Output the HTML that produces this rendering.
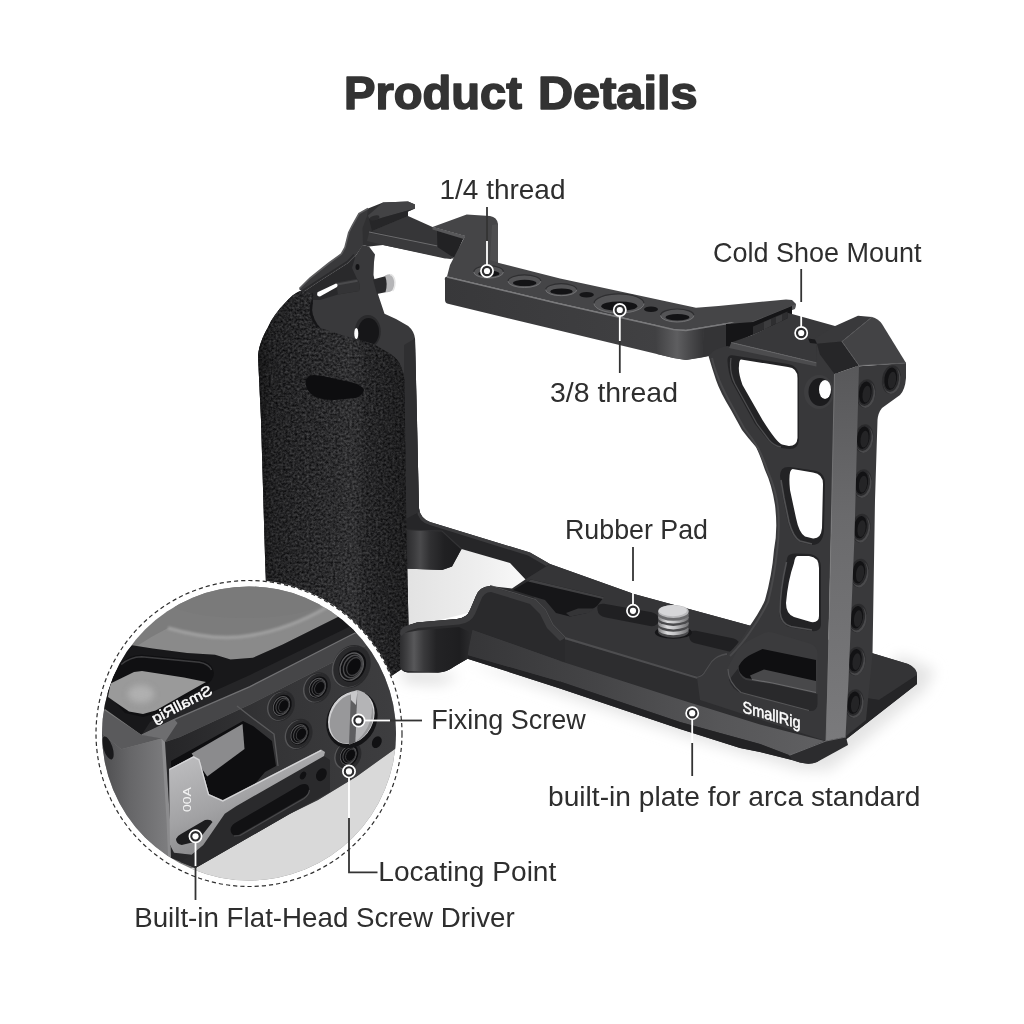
<!DOCTYPE html>
<html lang="en">
<head>
<meta charset="utf-8">
<title>Product Details</title>
<style>
  html, body { margin: 0; padding: 0; background: #ffffff; }
  body { width: 1024px; height: 1024px; overflow: hidden; position: relative; font-family: "Liberation Sans", sans-serif; }
  svg { position: absolute; left: 0; top: 0; display: block; }
  .lbl { font-family: "Liberation Sans", sans-serif; font-size: 27.5px; fill: #2e2e2e; }
  .ttl { font-family: "Liberation Sans", sans-serif; font-weight: 700; font-size: 47px; fill: #333333; stroke: #333333; stroke-width: 1.6px; stroke-linejoin: round; }
</style>
</head>
<body>
<svg width="1024" height="1024" viewBox="0 0 1024 1024">
  <defs>
    <linearGradient id="gHandle" gradientUnits="userSpaceOnUse" x1="258" y1="0" x2="407" y2="0">
      <stop offset="0" stop-color="#000000" stop-opacity="0.45"/>
      <stop offset="0.1" stop-color="#000000" stop-opacity="0.18"/>
      <stop offset="0.35" stop-color="#000000" stop-opacity="0.02"/>
      <stop offset="0.62" stop-color="#ffffff" stop-opacity="0.035"/>
      <stop offset="0.72" stop-color="#000000" stop-opacity="0.06"/>
      <stop offset="0.9" stop-color="#000000" stop-opacity="0.2"/>
      <stop offset="1" stop-color="#000000" stop-opacity="0.28"/>
    </linearGradient>
    <linearGradient id="gPostFront" x1="0" y1="0" x2="0" y2="1">
      <stop offset="0" stop-color="#58585a"/>
      <stop offset="0.4" stop-color="#6a6a6c"/>
      <stop offset="1" stop-color="#7a7a7c"/>
    </linearGradient>
    <linearGradient id="gInsetLeft" gradientUnits="userSpaceOnUse" x1="100" y1="0" x2="166" y2="0">
      <stop offset="0" stop-color="#4c4c4e"/>
      <stop offset="0.45" stop-color="#666668"/>
      <stop offset="1" stop-color="#7c7c7e"/>
    </linearGradient>
    <linearGradient id="gInsetFront" gradientUnits="userSpaceOnUse" x1="170" y1="0" x2="400" y2="0">
      <stop offset="0" stop-color="#262628"/>
      <stop offset="0.4" stop-color="#333335"/>
      <stop offset="1" stop-color="#3e3e40"/>
    </linearGradient>
    <linearGradient id="gTool" gradientUnits="userSpaceOnUse" x1="180" y1="760" x2="215" y2="850">
      <stop offset="0" stop-color="#bcbcbe"/>
      <stop offset="0.6" stop-color="#a2a2a4"/>
      <stop offset="1" stop-color="#8a8a8c"/>
    </linearGradient>
    <filter id="fLeather" x="0" y="0" width="100%" height="100%" color-interpolation-filters="sRGB">
      <feTurbulence type="fractalNoise" baseFrequency="0.42" numOctaves="2" seed="11" result="n"/>
      <feColorMatrix in="n" type="matrix" values="0.34 0 0 0 -0.008  0.34 0 0 0 -0.008  0.34 0 0 0 -0.001  0 0 0 0 1" result="m"/>
      <feComposite in="m" in2="SourceAlpha" operator="in"/>
    </filter>
    <linearGradient id="gBevel" gradientUnits="userSpaceOnUse" x1="470" y1="0" x2="825" y2="0">
      <stop offset="0" stop-color="#363638"/>
      <stop offset="0.35" stop-color="#444446"/>
      <stop offset="0.7" stop-color="#565658"/>
      <stop offset="1" stop-color="#606062"/>
    </linearGradient>
    <filter id="fBlur" x="-10%" y="-10%" width="120%" height="120%"><feGaussianBlur stdDeviation="7"/></filter>
    <linearGradient id="gBarFront" gradientUnits="userSpaceOnUse" x1="445" y1="0" x2="700" y2="0">
      <stop offset="0" stop-color="#38383a"/>
      <stop offset="0.6" stop-color="#3e3e40"/>
      <stop offset="1" stop-color="#434345"/>
    </linearGradient>
    <linearGradient id="gBarCorner" gradientUnits="userSpaceOnUse" x1="655" y1="0" x2="704" y2="0">
      <stop offset="0" stop-color="#404042"/>
      <stop offset="0.45" stop-color="#5e5e60"/>
      <stop offset="0.7" stop-color="#4a4a4c"/>
      <stop offset="1" stop-color="#343436"/>
    </linearGradient>
    <linearGradient id="gScrew" x1="0" y1="0" x2="1" y2="0">
      <stop offset="0" stop-color="#7c7c7e"/>
      <stop offset="0.3" stop-color="#dededf"/>
      <stop offset="0.55" stop-color="#c4c4c6"/>
      <stop offset="1" stop-color="#6e6e70"/>
    </linearGradient>
    <filter id="fBlur3" x="-30%" y="-30%" width="160%" height="160%"><feGaussianBlur stdDeviation="3"/></filter>
    <linearGradient id="gGap" gradientUnits="userSpaceOnUse" x1="405" y1="0" x2="525" y2="0">
      <stop offset="0" stop-color="#e2e2e2"/>
      <stop offset="0.6" stop-color="#eeeeee"/>
      <stop offset="1" stop-color="#f8f8f8"/>
    </linearGradient>
    <linearGradient id="gFoot" gradientUnits="userSpaceOnUse" x1="400" y1="0" x2="470" y2="0">
      <stop offset="0" stop-color="#2c2c2e"/>
      <stop offset="0.09" stop-color="#3e3e40"/>
      <stop offset="0.2" stop-color="#58585a"/>
      <stop offset="0.34" stop-color="#3a3a3c"/>
      <stop offset="0.52" stop-color="#232325"/>
      <stop offset="0.85" stop-color="#1e1e20"/>
      <stop offset="1" stop-color="#2a2a2c"/>
    </linearGradient>
    <linearGradient id="gFoot2" gradientUnits="userSpaceOnUse" x1="404" y1="0" x2="462" y2="0">
      <stop offset="0" stop-color="#262628"/>
      <stop offset="0.16" stop-color="#3a3a3c"/>
      <stop offset="0.28" stop-color="#4a4a4c"/>
      <stop offset="0.45" stop-color="#303032"/>
      <stop offset="0.7" stop-color="#202022"/>
      <stop offset="1" stop-color="#1c1c1e"/>
    </linearGradient>
    <filter id="fBlur1" x="-10%" y="-50%" width="120%" height="200%"><feGaussianBlur stdDeviation="1.2"/></filter>
    <clipPath id="insetClip"><circle cx="249" cy="733.5" r="147"/></clipPath>
  </defs>

  <!-- ===== BACKGROUND ===== -->
  <rect x="0" y="0" width="1024" height="1024" fill="#ffffff"/>
  <g id="shadows" filter="url(#fBlur)">
    <path d="M470,664 L560,694 L690,738 L800,770 L830,770 L925,690 L935,670 L900,655 L860,700 L700,700 Z" fill="#e4e4e4"/>
    <path d="M400,668 L460,676 L440,684 L405,682 Z" fill="#dddddd"/>
  </g>

  <!-- ===== PRODUCT ===== -->
  <g id="product">
    <!-- ground shading between rails -->
    <path d="M404,560 L450,560 L462,549 L512,562 L528,578 L514,590 L490,588 L478,598 L472,612 L400,630 Z" fill="url(#gGap)"/>
    <!-- ===== back rail (lower-left, far side) ===== -->
    <path d="M404,330 L412.5,332.5 L415,345 L419,508 Q420,518 430,522 L530,552.5 L550,564 L560,600 L526,580 L510,563 L461.5,549 L452,566.5 L442,570 L404,568.5 Z" fill="#262628"/>
    <path d="M419,508 Q420,518 430,522 L530,552.5 L550,564 L546,566 L528,555.5 L430,525 Q418,522 416.5,509 Z" fill="#3c3c3e"/>
    <path d="M404,530 L442,531 L461.5,549 L452,566.5 L442,570 L404,568.5 Z" fill="url(#gFoot2)"/>
    <path d="M404,530 L442,531 L461.5,549" stroke="#333335" stroke-width="1.2" fill="none"/>

    <!-- ===== left frame (behind handle) ===== -->
    <!-- plate -->
    <path d="M303,292.5 L318.6,282 L348.4,263 L355.5,256 L362.5,245 L369,246.6 L375,254.5 L374,262 L373.5,275 L377.5,292.7 L384.5,313.8 L396,319 L408.2,326 Q414,331 415,338.4 L417,420 L419,512 L400,520 L300,400 Z" fill="#39393b"/>
    <path d="M404,345 L415,338.4 L417,420 L419,512 L404,520 Z" fill="#2f2f31"/>
    <!-- shadow under arm + rod behind slot -->
    <path d="M303,292.5 L318.6,282 L348.4,263 L355.5,256 L352,268 L357,278.7 Q361,284 359,291 L338,294.5 L320,300 L312,300 Z" fill="#29292b"/>
    <path d="M336,282.5 L357,278.7 Q361,284 359,291 L338,294.5 Z" fill="#343436"/>
    <path d="M337,284.5 L357.5,280.7" stroke="#4a4a4c" stroke-width="2" fill="none"/>
    <!-- slot under arm (white gap) -->
    <path d="M317.5,292.2 L336,283.5 Q338.5,284 337,287 L320,296.5 Q316,296.5 317.5,292.2 Z" fill="#ffffff"/>
    <!-- upper frame silhouette (shoe support) -->
    <path d="M345,247.5 L348.75,232.5 L352,226 L359,213.5 L368,208.5 L383,202.5 L408,201.5 L415,204.5 L415,208.5 L408,211.5 L408,227 L432.5,227 L465,236 L451,259 L383,245 L369,246.6 L362.5,245 Z" fill="#303032"/>
    <!-- arm -->
    <path d="M299,289 L310,278 L329,263 L341.4,254 L345,247.5 L348.75,232.5 L352,226 L359,213.5 L368,208.5 L367,216 L362.5,228 L363,245 L355.5,256 L348.4,263 L318.6,282 L303,292.5 Z" fill="#39393b"/>
    <path d="M299.5,288.5 L310,278 L329,263 L341.4,254 L345,247.5 L348.75,232.5 L352,226 L359,213.5 L368,208.5" stroke="#5c5c5e" stroke-width="1.6" fill="none"/>
    <path d="M302,291 L318,280.5 L347.5,261.5 L354,254.5" stroke="#2a2a2c" stroke-width="1.5" fill="none"/>
    <!-- cold shoe left tab -->
    <path d="M368,215.5 L383,202.5 L408,201.5 L415,204.5 L415,208.5 L383,217.5 L375,220 L369,218 Z" fill="#434345"/>
    <path d="M383,217.5 L415,208.5 L408,211.5 L408,216 L372,231 L369,219 L375,220 Z" fill="#262628"/>
    <ellipse cx="374.5" cy="218" rx="5" ry="2.3" transform="rotate(-15 374.5 218)" fill="#2c2c2e"/>
    <!-- shoe floor -->
    <path d="M372,231 L408,216 L432.5,227 L437,231 L437,247 Z" fill="#363638"/>
    <path d="M369,233 L437.5,246.5 L455,258.5 L445,258.5 L383,245 L367,241 Z" fill="#3a3a3c"/>
    <path d="M369,232 L437.5,246" stroke="#6c6c6e" stroke-width="1.2" fill="none"/>
    <!-- tongue dark side wall -->
    <path d="M437,231 L463,239 L455,258.5 L437.5,247 Z" fill="#222224"/>
    <!-- pin -->
    <path d="M373,279.5 L388,275.5 L389,291.5 L377,294 Z" fill="#2a2a2c"/>
    <path d="M385,275.5 Q392,272.5 394,277 Q396,283 393,290 Q389,293 385.5,292 Q388,284 385,275.5 Z" fill="#b5b5b7"/>
    <path d="M390,274.5 Q394,275 395,282 Q395,288 392.5,291" stroke="#e6e6e6" stroke-width="1.5" fill="none"/>
    <!-- small hole on arm -->
    <ellipse cx="357.5" cy="267" rx="2" ry="3" fill="#121214"/>
    <!-- threaded hole on frame -->
    <ellipse cx="367.8" cy="331.5" rx="13" ry="16.5" fill="#2a2a2c"/>
    <ellipse cx="368.5" cy="332" rx="10.5" ry="14" fill="#161618"/>
    <ellipse cx="356.3" cy="333.5" rx="2" ry="5.5" fill="#ffffff"/>

    <!-- ===== top bar ===== -->
    <!-- front face -->
    <path d="M445,280 Q444,277 447,276.5 L556,302.5 L673.5,329 L686,330 L716,325 L731,322.5 L728.5,347.5 L708.5,356 L686,360 L673.5,358 L556,329.8 L448,303.8 Q445,303 445,300 Z" fill="url(#gBarFront)"/>
    <path d="M655,325 L686,330 L704,327 L702,357.5 L686,360 L673.5,358 L657,354 Z" fill="url(#gBarCorner)"/>
    <path d="M704,327 L731,322.5 L728.5,347.5 L708.5,356 L702,357.5 Z" fill="#343436"/>
    <!-- top face -->
    <path d="M432.5,227 L466.7,214.4 L490,216 Q497,217 498,224 L498,262.8 L560,278.4 L696,307.8 L718.5,306 L786,299.5 L792,300 L796,304 L795,308.5 L747.5,325 L731,322.5 L716,325 L686,330 L673.5,329 L556,302.5 L447,276.5 L450,265 L465,236 Z" fill="#454547"/>
    <path d="M492,225 L498,224 L498,262.5 L490,260 Z" fill="#4e4e50"/>
    <path d="M447,277 L556,303 L673.5,329.5 L686,330.5 L716,325.5 L731,323" stroke="#7a7a7c" stroke-width="1.4" fill="none"/>
    <!-- wing edge -->
    <path d="M796,304 L795,309 L747.5,326 L731,326 L731,322.5 L747.5,323.5 Z" fill="#555557"/>
    <!-- block lip -->
    <path d="M432.5,227 L465,236 L464,239 L432.5,229.5 Z" fill="#58585a"/>
    <!-- holes on bar -->
    <ellipse cx="488.6" cy="271.9" rx="14.8" ry="6.2" fill="#545456"/>
    <path d="M473.8,271.9 A14.8,6.2 0 0 1 503.40000000000003,271.9" stroke="#2f2f31" stroke-width="1.2" fill="none"/>
    <path d="M473.8,271.9 A14.8,6.2 0 0 0 503.40000000000003,271.9" stroke="#727274" stroke-width="1" fill="none"/>
    <ellipse cx="488.90000000000003" cy="273.64" rx="10.66" ry="3.10" fill="#131315"/>
    <ellipse cx="524.4" cy="281.2" rx="16.4" ry="6.3" fill="#545456"/>
    <path d="M508.0,281.2 A16.4,6.3 0 0 1 540.8,281.2" stroke="#2f2f31" stroke-width="1.2" fill="none"/>
    <path d="M508.0,281.2 A16.4,6.3 0 0 0 540.8,281.2" stroke="#727274" stroke-width="1" fill="none"/>
    <ellipse cx="524.6999999999999" cy="282.96" rx="11.81" ry="3.15" fill="#131315"/>
    <ellipse cx="561.2" cy="289.7" rx="15.6" ry="6" fill="#545456"/>
    <path d="M545.6,289.7 A15.6,6 0 0 1 576.8000000000001,289.7" stroke="#2f2f31" stroke-width="1.2" fill="none"/>
    <path d="M545.6,289.7 A15.6,6 0 0 0 576.8000000000001,289.7" stroke="#727274" stroke-width="1" fill="none"/>
    <ellipse cx="561.5" cy="291.38" rx="11.23" ry="3.00" fill="#131315"/>
    <ellipse cx="619" cy="303.5" rx="25" ry="9.6" fill="#545456"/>
    <path d="M594,303.5 A25,9.6 0 0 1 644,303.5" stroke="#2f2f31" stroke-width="1.2" fill="none"/>
    <path d="M594,303.5 A25,9.6 0 0 0 644,303.5" stroke="#727274" stroke-width="1" fill="none"/>
    <ellipse cx="619.3" cy="306.19" rx="18.00" ry="4.80" fill="#131315"/>
    <ellipse cx="677.2" cy="315.5" rx="16.7" ry="6.5" fill="#545456"/>
    <path d="M660.5,315.5 A16.7,6.5 0 0 1 693.9000000000001,315.5" stroke="#2f2f31" stroke-width="1.2" fill="none"/>
    <path d="M660.5,315.5 A16.7,6.5 0 0 0 693.9000000000001,315.5" stroke="#727274" stroke-width="1" fill="none"/>
    <ellipse cx="677.5" cy="317.32" rx="12.02" ry="3.25" fill="#131315"/>
    <ellipse cx="586.6" cy="294.7" rx="7.3" ry="2.8" fill="#151517"/>
    <ellipse cx="651" cy="309.2" rx="7" ry="2.8" fill="#151517"/>

    <!-- ===== handle ===== -->
    <path id="handleShape" d="M258,356 C259,345 263,336 267.6,328 C272,318 278,310 285,303 C290,297 295,293 300,291 L312.4,292.7 Q314,295 313,298 L312,310 Q313,320 320.3,328 L341.4,335 L373,343.7 L390.6,354 Q399,360 401,366.5 Q404,373 404.5,380.6 L406.3,525 L408.5,625 L408.5,655 Q408,664 401,669.5 L384,681 L270,700 L268,640 L265,556 L261,420 Z" fill="#2b2b2d"/>
    <path d="M258,356 C259,345 263,336 267.6,328 C272,318 278,310 285,303 C290,297 295,293 300,291 L312.4,292.7 Q314,295 313,298 L312,310 Q313,320 320.3,328 L341.4,335 L373,343.7 L390.6,354 Q399,360 401,366.5 Q404,373 404.5,380.6 L406.3,525 L408.5,625 L408.5,655 Q408,664 401,669.5 L384,681 L270,700 L268,640 L265,556 L261,420 Z" fill="#2b2b2d" filter="url(#fLeather)"/>
    <path d="M258,356 C259,345 263,336 267.6,328 C272,318 278,310 285,303 C290,297 295,293 300,291 L312.4,292.7 Q314,295 313,298 L312,310 Q313,320 320.3,328 L341.4,335 L373,343.7 L390.6,354 Q399,360 401,366.5 Q404,373 404.5,380.6 L406.3,525 L408.5,625 L408.5,655 Q408,664 401,669.5 L384,681 L270,700 L268,640 L265,556 L261,420 Z" fill="url(#gHandle)"/>
    <path d="M305.4,381 Q307,375 314,375 L324,376.2 L352,382.5 Q363,385.5 364,390 Q362,396 355.5,398 L334.4,400 Q318,400 311,394 Q305,388 305.4,381 Z" fill="#0d0d0f"/>
    <path d="M313,298 L312,310 Q313,320 320.3,328 L316,326 Q309,318 309.5,306 Z" fill="#151517"/>
  

    <!-- ===== base plate ===== -->
    <!-- silhouette -->
    <path d="M400,634 Q400,628 406,626 L417,622.5 L457,619 Q467,618 470,610 L476,596 Q479,587 490,586 L512,588.5 L526,579 L550,564 L634,594 L755,627 L830,640 L875,654 L908,664 Q917,668 917,676 L917,684 L817,762 Q810,765 800,762.5 L792,760 L760,752 L740,748 L680,729 L560,688.4 L467.5,658.75 L455,666 Q446,672.5 438,672.5 L408,672.5 Q400,672 400,664 Z" fill="#2b2b2d"/>
    <!-- plate top surface -->
    <path d="M526,579 L550,564 L634,594 L755,627 L775,640 L727,655 L707,670 L697,678 L560,638.6 L552,625 L545,610 L535,600 Z" fill="#353537"/>
    <!-- lower ledge front face (same plane as web front) -->
    <path d="M472.5,630 L560,661 L680,699.5 L760,724.5 L824.5,741 L828,700 L700,677 L560,638.6 L535,600 L490,586 L476,596 L470,612 Z" fill="#2d2d2f"/>
    <!-- bevel band -->
    <path d="M472.5,630 L560,661 L680,699.5 L760,724.5 L824.5,741 L789.5,755.2 L760,744 L680,722 L560,681.5 L467.5,655 Z" fill="url(#gBevel)"/>
    <!-- bottom strip -->
    <path d="M467.5,655 L560,681.5 L680,722 L760,744 L789.5,755.2 L792,760 L760,752 L740,748 L680,729 L560,688.4 L467.5,658.75 Z" fill="#222224"/>
    <!-- step edge highlight -->
    <path d="M490,586 L535,600 L545,610 L552.5,625 L565,638 L697,677.7 Q703,677 706,671 L712,662 Q717,656 727,654" fill="none" stroke="#4e4e50" stroke-width="2"/>
    <!-- left pocket -->
    <path d="M513,590 L531,579.5 L604,597 L597,606 L587,613 L570,616.5 L556,613 L545,600 L535,597 Z" fill="#161618"/>
    <path d="M531,579.5 L604,597 L603,599 L528,581.5 Z" fill="#414143"/>
    <path d="M566,613 L578,608.5 L595,608.5 L588,613 L570,616.5 Z" fill="#343436"/>
    <!-- front rail wall: redraw over pocket -->
    <path d="M400,634 Q400,628 406,626 L417,622.5 L457,619 Q467,618 470,610 L476,596 Q479,587 490,586 L535,600 L545,610 L552.5,625 L565,638 L565,662 L472.5,630 L467.5,658.75 L455,666 Q446,672.5 438,672.5 L408,672.5 Q400,672 400,664 Z" fill="#2a2a2c"/>
    <!-- front rail rim -->
    <path d="M400,634 Q400,628 406,626 L417,622.5 L457,619 Q467,618 470,610 L476,596 Q479,587 490,586 L535,600 L545,610 L552.5,625 L565,638 L560,641 L547,628 L540,614 L530,604 L491,592 Q484,592 481,600 L475,614 Q471,623 459,624.5 L418,628 L408,631 Q403,633 403,638 Z" fill="#3c3c3e"/>
    <!-- bevel band over front rail area -->
    <path d="M472.5,630 L560,661 L560,681.5 L467.5,655 Z" fill="url(#gBevel)"/>
    <!-- foot cylinder shading -->
    <path d="M400,638 L400,664 Q400,671 408,671 L438,672.5 Q446,672.5 455,666 L467.5,658.75 L470,632 L459,627 L418,630.5 L404,633 Z" fill="url(#gFoot)"/>

    <!-- rubber pads -->
    <path d="M597.5,610 Q596,603 604,603.8 L651.8,612.2 Q659,614 658.5,620 Q658,627 650,626 L606,617.5 Q598,616 597.5,610 Z" fill="#202022"/>
    <path d="M689,636 Q688,630 696,630.8 L733.8,638.6 Q740,640.5 739,646 Q737,652.5 728,651.3 L694,643 Q689.5,641.5 689,636 Z" fill="#202022"/>
    <!-- screw -->
    <ellipse cx="673.4" cy="632.5" rx="18.5" ry="6.2" fill="#161618"/>
    <ellipse cx="673.4" cy="631.5" rx="15.4" ry="6.2" fill="#4a4a4c"/>
    <ellipse cx="673.4" cy="629.1" rx="15.4" ry="6.2" fill="url(#gScrew)"/>
    <ellipse cx="673.4" cy="625.6" rx="15.4" ry="6.2" fill="#4a4a4c"/>
    <ellipse cx="673.4" cy="623.2" rx="15.4" ry="6.2" fill="url(#gScrew)"/>
    <ellipse cx="673.4" cy="619.7" rx="15.4" ry="6.2" fill="#4a4a4c"/>
    <ellipse cx="673.4" cy="617.3000000000001" rx="15.4" ry="6.2" fill="url(#gScrew)"/>
    <ellipse cx="673.4" cy="614.5" rx="15.4" ry="6.3" fill="#6a6a6c"/>
    <ellipse cx="673.4" cy="611.4" rx="15.3" ry="6.5" fill="#b9b9bb"/>
    <ellipse cx="672.9" cy="610.6" rx="14" ry="5.6" fill="#d6d6d8"/>

    <!-- right part of plate (right of post) -->
    <path d="M866,652 L875,654 L908,664 Q917,668 917,675 L879,700 L866,698 Z" fill="#343436"/>
    <path d="M917,675 L917,684 L817,762 L846,737 L866,720 L866,698 L879,700 Z" fill="#252527"/>
  

    <!-- ===== cold shoe right slab ===== -->
    <path d="M790,316 L834,328 L842,342 L838,374 L812,366 L800,350 Z" fill="#343436"/>
    <path d="M726,324 L753,322 L792,306 L792,318 L753,334.7 L733,343.5 L729,349 L726,349 Z" fill="#151517"/>
    <path d="M753,326.5 L787.5,311.5 L787.5,318.3 L753,334.7 Z" fill="#2e2e30"/>
    <path d="M764,322 L771,319 L771,326 L764,329.5 Z" fill="#3c3c3e"/>
    <path d="M776,317 L782,314.5 L782,321 L776,323.8 Z" fill="#3c3c3e"/>
    <path d="M731.25,342.5 L753,334.7 L787.5,318.3 L787.5,312.8 L835,326 L835,328 L812,341 L816.4,343.7 L816.4,362.8 Z" fill="#38383a"/>

    <!-- ===== right web ===== -->
    <path d="M727,346 L816,364 L817,343.7 L820,354.5 L836,375 L831,536 L826,741 L700,700 L697,677.7 Q703,677 706,671 L712,662 Q717,656 727,655 Q742,640 747,630 Q760,612 765,600 Q772,575 774,550 Q778,530 775,505 Q772,485 765,470 Q760,455 756,447 Q748,438 742,430 L731,410 Q720,392 716,380 Q712,368 708.5,356 Q715,348 727,346 Z" fill="#38383a"/>
    <path d="M729,348 L731.25,342.5 L816.4,362.8 L816.4,366.5 Z" fill="#4c4c4e"/>
    <path d="M731.25,342.5 L816.4,362.8" stroke="#626264" stroke-width="1" fill="none"/>
    <!-- web outer rim highlight -->
    <path d="M712,358 Q716,378 733,408 L744,428 Q752,438 758,448 Q764,460 768,472 Q776,490 778,508 Q780,530 777,552 Q774,578 768,602 Q760,618 750,632 Q742,644 730,656" stroke="#48484a" stroke-width="2" fill="none"/>
    <!-- cutout 1 -->
    <path d="M727.5,361 Q727,354 734,355.5 L788,364 Q799,366 799,377 L799,440 Q798,449 790,449 L781,448 Q772,446 767,439 L755,424 L732,382 Q728,372 727.5,361 Z" fill="#232325"/>
    <path d="M741,359.5 L788,367 Q797.5,368 797.5,378 L797.5,438 Q797,446 789,446 L782,444.5 Q777,443 762.5,420 L742.5,385 Q738,372 739,366 Q739,360 741,359.5 Z" fill="#ffffff"/>
    <path d="M731,358 Q729,372 735,384 L757,424 L769,440 Q774,446 781,447" stroke="#4c4c4e" stroke-width="1.3" fill="none"/>
    <!-- cutout 2 -->
    <path d="M780,476 Q780,466 790,467 L814,470.5 Q825,472 825,484 L824,530 Q823,545 812,545 L800,542 Q792,538 788,522 L783,498 Z" fill="#232325"/>
    <path d="M792.5,469 L813,472.5 Q823,474 823,484 L822,528 Q821,539 813,538.5 L805,536.5 Q799,533 796,518 L790,490 Q788,470 792.5,469 Z" fill="#ffffff"/>
    <!-- cutout 3 -->
    <path d="M787.5,557 Q789,553 797,553.5 L810,554 Q821,556 821,568 L821,625 Q820,632 812,631 L791,627.5 Q780,625 779,612 Q779,590 787.5,557 Z" fill="#232325"/>
    <path d="M797.5,556 L809,556 Q819,557 819,568 L819,616 Q819,623 811,622 L794,617 Q786,614 786,603 Q788,580 794,563 Q795,556 797.5,556 Z" fill="#ffffff"/>
    <path d="M786.5,562 Q780,590 780,612 Q781,624 791,626.5 L812,630" stroke="#505052" stroke-width="1.6" fill="none"/>
    <path d="M781,480 L784,498 L789,522 Q793,537 800,541 L812,544" stroke="#505052" stroke-width="1.6" fill="none"/>
    <!-- right pocket -->
    <path d="M727.5,668 L737,651 Q742,644 750,640 L765,632.5 Q770,631 778,634 L810,643.5 Q817,646 817.5,653 L817.5,704 Q817,712 809,711 L741,693 Q732,689 729,680 Z" fill="#3b3b3d"/>
    <path d="M729,680 Q732,689 741,693 L809,711 Q817,712 817.5,704 L817.5,694 L772.5,684 L746,680 Q738,676 738.5,668 Z" fill="#29292b"/>
    <path d="M728,669 Q728,682 741,692.5 L809,710.5" stroke="#555557" stroke-width="1.2" fill="none"/>
    <path d="M738.75,666 Q743,658 752,654 L762.5,649 L816,660 L816,692.5 L772.5,682.5 L746,678 Q738,674 738.75,666 Z" fill="#0f0f11"/>
    <path d="M750,675.5 L764,669.5 L816,681 L816,692.5 L772.5,683 L752,679.5 Z" fill="#48484a"/>
    <path d="M752,679.5 L772.5,683 L816,692.5" stroke="#6a6a6c" stroke-width="1.2" fill="none"/>
    <!-- logo on plate -->
    <text opacity="0.995" transform="translate(742.5,712.3) skewY(16)" font-family="Liberation Sans, sans-serif" font-weight="400" font-size="16.5" fill="#ffffff" stroke="#ffffff" stroke-width="0.5" textLength="58" lengthAdjust="spacingAndGlyphs">SmallRig</text>
    <!-- web screw hole -->
    <ellipse cx="819" cy="392" rx="15" ry="17" fill="#3e3e40"/>
    <ellipse cx="820" cy="392" rx="11.5" ry="14" fill="#1b1b1d"/>
    <ellipse cx="825" cy="389.5" rx="6" ry="9.5" fill="#ffffff"/>

    <!-- ===== post ===== -->
    <!-- right face -->
    <path d="M856,366.5 L906,363 L906,378 Q905,390 900,395 L882,408 Q878,413 877.5,420 L875,500 L872.5,655 L866,720 L842,739 L845,680 L850,536 Z" fill="#39393b"/>
    <g transform="translate(865.5,393) rotate(8)">
      <ellipse cx="0.5" cy="0.5" rx="9.5" ry="14.5" fill="#2c2c2e"/>
      <ellipse cx="1.2" cy="1.5" rx="8.6" ry="13.3" fill="#4a4a4c"/>
      <ellipse cx="0" cy="0" rx="8" ry="13" fill="#2a2a2c"/>
      <ellipse cx="-0.3" cy="-0.3" rx="6.3" ry="11.3" fill="#121214"/>
      <ellipse cx="1.2" cy="1" rx="4" ry="8.5" fill="#242426"/>
    </g>
    <g transform="translate(891,379) rotate(8)">
      <ellipse cx="0.5" cy="0.5" rx="9.5" ry="14.5" fill="#2c2c2e"/>
      <ellipse cx="1.2" cy="1.5" rx="8.6" ry="13.3" fill="#4a4a4c"/>
      <ellipse cx="0" cy="0" rx="8" ry="13" fill="#2a2a2c"/>
      <ellipse cx="-0.3" cy="-0.3" rx="6.3" ry="11.3" fill="#121214"/>
      <ellipse cx="1.2" cy="1" rx="4" ry="8.5" fill="#242426"/>
    </g>
    <g transform="translate(863.5,438) rotate(8)">
      <ellipse cx="0.5" cy="0.5" rx="9.5" ry="14.5" fill="#2c2c2e"/>
      <ellipse cx="1.2" cy="1.5" rx="8.6" ry="13.3" fill="#4a4a4c"/>
      <ellipse cx="0" cy="0" rx="8" ry="13" fill="#2a2a2c"/>
      <ellipse cx="-0.3" cy="-0.3" rx="6.3" ry="11.3" fill="#121214"/>
      <ellipse cx="1.2" cy="1" rx="4" ry="8.5" fill="#242426"/>
    </g>
    <g transform="translate(862,483) rotate(8)">
      <ellipse cx="0.5" cy="0.5" rx="9.5" ry="14.5" fill="#2c2c2e"/>
      <ellipse cx="1.2" cy="1.5" rx="8.6" ry="13.3" fill="#4a4a4c"/>
      <ellipse cx="0" cy="0" rx="8" ry="13" fill="#2a2a2c"/>
      <ellipse cx="-0.3" cy="-0.3" rx="6.3" ry="11.3" fill="#121214"/>
      <ellipse cx="1.2" cy="1" rx="4" ry="8.5" fill="#242426"/>
    </g>
    <g transform="translate(860.5,527.5) rotate(8)">
      <ellipse cx="0.5" cy="0.5" rx="9.5" ry="14.5" fill="#2c2c2e"/>
      <ellipse cx="1.2" cy="1.5" rx="8.6" ry="13.3" fill="#4a4a4c"/>
      <ellipse cx="0" cy="0" rx="8" ry="13" fill="#2a2a2c"/>
      <ellipse cx="-0.3" cy="-0.3" rx="6.3" ry="11.3" fill="#121214"/>
      <ellipse cx="1.2" cy="1" rx="4" ry="8.5" fill="#242426"/>
    </g>
    <g transform="translate(859,572.5) rotate(8)">
      <ellipse cx="0.5" cy="0.5" rx="9.5" ry="14.5" fill="#2c2c2e"/>
      <ellipse cx="1.2" cy="1.5" rx="8.6" ry="13.3" fill="#4a4a4c"/>
      <ellipse cx="0" cy="0" rx="8" ry="13" fill="#2a2a2c"/>
      <ellipse cx="-0.3" cy="-0.3" rx="6.3" ry="11.3" fill="#121214"/>
      <ellipse cx="1.2" cy="1" rx="4" ry="8.5" fill="#242426"/>
    </g>
    <g transform="translate(857,617.5) rotate(8)">
      <ellipse cx="0.5" cy="0.5" rx="9.5" ry="14.5" fill="#2c2c2e"/>
      <ellipse cx="1.2" cy="1.5" rx="8.6" ry="13.3" fill="#4a4a4c"/>
      <ellipse cx="0" cy="0" rx="8" ry="13" fill="#2a2a2c"/>
      <ellipse cx="-0.3" cy="-0.3" rx="6.3" ry="11.3" fill="#121214"/>
      <ellipse cx="1.2" cy="1" rx="4" ry="8.5" fill="#242426"/>
    </g>
    <g transform="translate(855.5,660.5) rotate(8)">
      <ellipse cx="0.5" cy="0.5" rx="9.5" ry="14.5" fill="#2c2c2e"/>
      <ellipse cx="1.2" cy="1.5" rx="8.6" ry="13.3" fill="#4a4a4c"/>
      <ellipse cx="0" cy="0" rx="8" ry="13" fill="#2a2a2c"/>
      <ellipse cx="-0.3" cy="-0.3" rx="6.3" ry="11.3" fill="#121214"/>
      <ellipse cx="1.2" cy="1" rx="4" ry="8.5" fill="#242426"/>
    </g>
    <g transform="translate(854,703) rotate(8)">
      <ellipse cx="0.5" cy="0.5" rx="9.5" ry="14.5" fill="#2c2c2e"/>
      <ellipse cx="1.2" cy="1.5" rx="8.6" ry="13.3" fill="#4a4a4c"/>
      <ellipse cx="0" cy="0" rx="8" ry="13" fill="#2a2a2c"/>
      <ellipse cx="-0.3" cy="-0.3" rx="6.3" ry="11.3" fill="#121214"/>
      <ellipse cx="1.2" cy="1" rx="4" ry="8.5" fill="#242426"/>
    </g>
    <!-- light front face -->
    <path d="M834.5,374 L859,365.5 L854.5,536 L848.5,680 L845.5,737 L826,741 L827.5,680 L831,536 Z" fill="url(#gPostFront)"/>
    <path d="M834.5,374 L831,536 L828,680 L826,741" stroke="#7a7a7c" stroke-width="1" fill="none" opacity="0.8"/>
    <!-- chamfer below light face -->
    <path d="M826,741 L846,737 L848,745 L817,762 Q810,765 800,762.5 L792,760 L789.5,755.2 Z" fill="#2c2c2e"/>
    <path d="M789.5,755.2 L826,741 L846,737" stroke="#6a6a6c" stroke-width="1" fill="none"/>
    <!-- top block -->
    <path d="M817,343.7 L810,341.5 L834,326.5 L858,315.8 L872,317 L842,341.6 Z" fill="#39393b"/>
    <path d="M842,341.6 L872,317 Q878,318.5 882,324 L906,363 L859,365.5 Z" fill="#434345"/>
    <path d="M817,343.7 L842,341.6 L859,365.5 L834.5,374 L820,354.5 Z" fill="#262628"/>
    <path d="M842,341.6 L872,317" stroke="#555557" stroke-width="1" fill="none"/>
    <path d="M842,341.6 L859,365.5 L906,363" stroke="#58585a" stroke-width="1" fill="none"/>
    <path d="M808,338.5 L815,339.5 L817,343.7 L810,343 Z" fill="#19191b"/>

  </g>

  <!-- ===== INSET ===== -->
  <g id="inset">
    <circle cx="249" cy="733.5" r="153.6" fill="#ffffff"/>
    <g clip-path="url(#insetClip)">
      <!-- background -->
      <rect x="95" y="580" width="310" height="310" fill="#7c7c7c"/>
      <!-- dome band -->
      <path d="M137,646 Q152,636 168,628 Q215,642 250,635.5 Q290,629 327,607 L372,585 L372,600 L328.4,621.8 L282.7,644.6 L252.9,657.8 L230.6,659.4 L215,654.7 L187,653 L152.5,648.4 L132,645.3 Z" fill="#8a8a8a"/>
      <path d="M168,628 Q215,642 250,635.5 Q290,629 327,607 L345,597" stroke="#9e9e9e" stroke-width="3.5" fill="none" filter="url(#fBlur1)"/>
      <ellipse cx="245" cy="598" rx="80" ry="20" fill="#7a7a7a"/>
      <!-- floor -->
      <path d="M150,868 L195.5,868 L290,813.75 L318,800 L356.6,776.4 L393.5,750 L405,742 L405,895 L150,895 Z" fill="#d9d9d9"/>
      <!-- top face (black) -->
      <path d="M95,720 L100,700 L113.4,675 L121,656 L132,645.3 L152.5,648.4 L187,653 L215,654.7 L230.6,659.4 L252.9,657.8 L282.7,644.6 L328.4,621.8 L372,600 L405,600 L405,609 L353,634 L250,686.6 L174.4,719.4 L141.6,735 L105,709 Z" fill="#18181a"/>
      <path d="M250,686.6 L353,634 L405,609 L405,600 L353,625 L250,675 L174.4,709 L150,722 L141.6,735 L174.4,719.4 Z" fill="#252527"/>
      <!-- slot in top face -->
      <path d="M104,690 L121.25,662.5 Q130,655 141.6,654.7 L199.4,660.2 Q210,662 213,669 Q216,676 209,683 L160,712 L143,717 L125,713 Z" fill="#101012"/>
      <path d="M121.25,664.5 Q130,657 141.6,656.7 L199.4,662.2 Q209,664 211.5,670" stroke="#3c3c3e" stroke-width="1.5" fill="none"/>
      <path d="M108,697 L110.5,683.5 L134,672 L142,671 L184,677.5 L206,682 L155.6,710.5 L143,714 L129,711.5 L118,704 Z" fill="#9a9a9a"/>
      <ellipse cx="141" cy="694" rx="13" ry="9" fill="#b4b4b4" opacity="0.85" filter="url(#fBlur3)"/>
      <!-- SmallRig mirrored -->
      <text opacity="0.995" transform="translate(213.5,693.5) rotate(-27.3) scale(-1,1)" font-family="Liberation Sans, sans-serif" font-weight="400" font-size="14.5" fill="#ffffff" stroke="#ffffff" stroke-width="0.45" textLength="66" lengthAdjust="spacingAndGlyphs">SmallRig</text>
      <!-- chamfer left -->
      <path d="M95,725 L104,710 L141.6,735 L161.5,738.5 L121.25,749.3 L102.5,734 L95,735 Z" fill="#5a5a5c"/>
      <!-- chamfer front -->
      <path d="M141.6,735 L174.4,719.4 L250,686.6 L353,634 L405,609 L405,627 L353,652 L250,704.5 L180,737 L165,742 L161.5,738.5 Z" fill="#464648"/>
      <path d="M141.6,735 L174.4,719.4 L177.5,723 L165,742 L161.5,738.5 Z" fill="#6e6e70"/>
      <path d="M141.6,735 L174.4,719.4 L250,686.6 L353,634 L405,609" stroke="#707072" stroke-width="1.3" fill="none"/>
      <!-- left face -->
      <path d="M95,735 L102.5,734 L121.25,749.3 L161.5,738.5 L166.5,820 L168,856 L95,800 Z" fill="url(#gInsetLeft)"/>
      <ellipse cx="108" cy="748" rx="4.5" ry="12" transform="rotate(-18 108 748)" fill="#19191b"/>
      <path d="M161.5,738.5 L165,742 L170,820 L171,858 L168,856 L166.5,820 Z" fill="#8c8c8e"/>
      <!-- front face -->
      <path d="M165,742 L180,737 L250,704.5 L353,652 L405,627 L405,742 L393.5,750 L356.6,776.4 L318,800 L290,813.75 L195.5,868 L171,858 L170,820 Z" fill="url(#gInsetFront)"/>
      <!-- recess rim highlight -->
      <path d="M237,706 L253,718.4 L274,734 L278,766" stroke="#5a5a5c" stroke-width="1.3" fill="none"/>
      <!-- recess opening -->
      <path d="M171,761 L243,721 L253,726 L272,741 L276,766 L265,772 L236.5,806 L224.8,813.75 L203.3,845 L191.6,854.8 L174,852.8 L170,845 Z" fill="#0e0e10"/>
      <!-- gray panel inside recess -->
      <path d="M191.6,753.5 L242.5,724 L244.5,749 L207.2,776.6 Z" fill="#8b8b8d"/>
      <!-- lower rail & slot -->
      <path d="M224.8,813.75 L236.5,806 L324,756 L330,760 L330,792 L290,813.75 L195.5,868 L180,862 L191.6,854.8 L203.3,845 Z" fill="#2a2a2c"/>
      <path d="M232,834 Q228,828 235,823 L300,785 Q308,782 309,788 Q310,793 304,797 L240,834 Q235,837 232,834 Z" fill="#111113"/>
      <path d="M234,836 L240,835.5 L304,798.5 Q309,795 309.5,790" stroke="#4a4a4c" stroke-width="1.2" fill="none"/>
      <!-- tool -->
      <path d="M169,769 L193.5,756 L199.4,759 L209,794 L222.8,800 L321,749.5 L325,752 L324,756 L236.5,806 L224.8,813.75 L203.3,845 L191.6,854.8 L174,852.8 L170,845 Z" fill="url(#gTool)"/>
      <path d="M169.5,769.5 L193.5,757 L199,760 L208.5,794.5 L222.8,801 L321,750.5" stroke="#d6d6d8" stroke-width="1.2" fill="none"/>
      <path d="M176,839 Q177,836 181,834 L205,820 Q211,819 212.5,822 L200,838 Q196,842 190,843 L181.8,845 Q176,844 176,839 Z" fill="#1c1c1e"/>
      <text opacity="0.995" transform="translate(191,812) rotate(-90)" font-family="Liberation Sans, sans-serif" font-size="10.5" fill="#f4f4f4" textLength="25" lengthAdjust="spacingAndGlyphs">00A</text>
      <!-- holes -->
      <g transform="translate(281,706) rotate(28)">
        <ellipse cx="0" cy="0" rx="13.3" ry="16.0" fill="#2a2a2c"/>
        <ellipse cx="-0.8" cy="0.8" rx="12.3" ry="15.0" fill="#555557"/>
        <ellipse cx="0" cy="0" rx="11.9" ry="14.6" fill="#29292b"/>
        <ellipse cx="0.8" cy="-0.8" rx="9.1" ry="11.4" fill="#0e0e10"/>
        <ellipse cx="0.3" cy="-0.2" rx="7.6" ry="9.9" fill="none" stroke="#58585a" stroke-width="1.00"/>
        <ellipse cx="1.4" cy="-0.8" rx="6.2" ry="8.2" fill="none" stroke="#4a4a4c" stroke-width="1.00"/>
        <ellipse cx="2.4" cy="-1.4" rx="4.7" ry="6.6" fill="#0c0c0e" stroke="#3e3e40" stroke-width="0.90"/>
      </g>
      <g transform="translate(317,687.7) rotate(28)">
        <ellipse cx="0" cy="0" rx="13.3" ry="16.0" fill="#2a2a2c"/>
        <ellipse cx="-0.8" cy="0.8" rx="12.3" ry="15.0" fill="#555557"/>
        <ellipse cx="0" cy="0" rx="11.9" ry="14.6" fill="#29292b"/>
        <ellipse cx="0.8" cy="-0.8" rx="9.1" ry="11.4" fill="#0e0e10"/>
        <ellipse cx="0.3" cy="-0.2" rx="7.6" ry="9.9" fill="none" stroke="#58585a" stroke-width="1.00"/>
        <ellipse cx="1.4" cy="-0.8" rx="6.2" ry="8.2" fill="none" stroke="#4a4a4c" stroke-width="1.00"/>
        <ellipse cx="2.4" cy="-1.4" rx="4.7" ry="6.6" fill="#0c0c0e" stroke="#3e3e40" stroke-width="0.90"/>
      </g>
      <g transform="translate(298.6,734.2) rotate(28)">
        <ellipse cx="0" cy="0" rx="13.3" ry="16.0" fill="#2a2a2c"/>
        <ellipse cx="-0.8" cy="0.8" rx="12.3" ry="15.0" fill="#555557"/>
        <ellipse cx="0" cy="0" rx="11.9" ry="14.6" fill="#29292b"/>
        <ellipse cx="0.8" cy="-0.8" rx="9.1" ry="11.4" fill="#0e0e10"/>
        <ellipse cx="0.3" cy="-0.2" rx="7.6" ry="9.9" fill="none" stroke="#58585a" stroke-width="1.00"/>
        <ellipse cx="1.4" cy="-0.8" rx="6.2" ry="8.2" fill="none" stroke="#4a4a4c" stroke-width="1.00"/>
        <ellipse cx="2.4" cy="-1.4" rx="4.7" ry="6.6" fill="#0c0c0e" stroke="#3e3e40" stroke-width="0.90"/>
      </g>
      <g transform="translate(351.3,666.6) rotate(28)">
        <ellipse cx="0" cy="0" rx="18.5" ry="22.5" fill="#2a2a2c"/>
        <ellipse cx="-0.8" cy="0.8" rx="17.5" ry="21.5" fill="#555557"/>
        <ellipse cx="0" cy="0" rx="17.1" ry="21.1" fill="#29292b"/>
        <ellipse cx="0.8" cy="-0.8" rx="12.9" ry="16.3" fill="#0e0e10"/>
        <ellipse cx="0.3" cy="-0.2" rx="10.8" ry="14.2" fill="none" stroke="#58585a" stroke-width="1.43"/>
        <ellipse cx="1.4" cy="-0.8" rx="8.8" ry="11.8" fill="none" stroke="#4a4a4c" stroke-width="1.43"/>
        <ellipse cx="2.4" cy="-1.4" rx="6.7" ry="9.5" fill="#0c0c0e" stroke="#3e3e40" stroke-width="1.29"/>
      </g>
      <g transform="translate(347.8,755.4) rotate(28)">
        <ellipse cx="0" cy="0" rx="13.0" ry="15.5" fill="#2a2a2c"/>
        <ellipse cx="-0.8" cy="0.8" rx="12.0" ry="14.5" fill="#555557"/>
        <ellipse cx="0" cy="0" rx="11.6" ry="14.1" fill="#29292b"/>
        <ellipse cx="0.8" cy="-0.8" rx="8.9" ry="11.0" fill="#0e0e10"/>
        <ellipse cx="0.3" cy="-0.2" rx="7.4" ry="9.6" fill="none" stroke="#58585a" stroke-width="0.97"/>
        <ellipse cx="1.4" cy="-0.8" rx="6.0" ry="8.0" fill="none" stroke="#4a4a4c" stroke-width="0.97"/>
        <ellipse cx="2.4" cy="-1.4" rx="4.6" ry="6.4" fill="#0c0c0e" stroke="#3e3e40" stroke-width="0.87"/>
      </g>
      <ellipse cx="376.8" cy="742.2" rx="4.6" ry="6.2" transform="rotate(28 376.8 742.2)" fill="#111113"/>
      <ellipse cx="321.4" cy="774.7" rx="5" ry="6.8" transform="rotate(28 321.4 774.7)" fill="#111113"/>
      <ellipse cx="303" cy="775.5" rx="2.8" ry="4.2" transform="rotate(28 303 775.5)" fill="#111113"/>
      <!-- fixing screw -->
      <g transform="translate(351.3,717.6) rotate(28)">
        <ellipse cx="1.5" cy="1.5" rx="24.5" ry="29.5" fill="#141416"/>
        <ellipse cx="0" cy="0" rx="22" ry="27.5" fill="#d0d0d2"/>
        <ellipse cx="0.8" cy="0.8" rx="20.6" ry="26" fill="#98989a"/>
      </g>
      <path d="M351,692 L357.5,690 L355.5,742 L349,745 Z" fill="#5e5e60"/>
      <path d="M357.5,690 Q371,693 372,708 Q372,728 355.5,742 Z" fill="#b4b4b6"/>
      <path d="M351,692 L357.5,690 L356,705 L351,700 Z" fill="#c8c8ca"/>
    </g>
    <!-- dashed ring -->
    <circle cx="249" cy="733.5" r="153" fill="none" stroke="#2e2e2e" stroke-width="1.2" stroke-dasharray="4.2 3"/>
  </g>

  <!-- ===== CALLOUTS ===== -->
  <g id="callouts" fill="none" stroke-linecap="butt">
    <!-- 1/4 thread -->
    <path d="M487,207 L487,241" stroke="#333333" stroke-width="1.8"/>
    <path d="M487,241 L487,265" stroke="#ffffff" stroke-width="1.8"/>
    <circle cx="487" cy="271" r="6.1" fill="#2c2c2e" stroke="#ffffff" stroke-width="1.7"/>
    <circle cx="487" cy="271" r="3.1" fill="#ffffff" stroke="none"/>
    <!-- cold shoe -->
    <path d="M801.2,269 L801.2,302" stroke="#333333" stroke-width="1.8"/>
    <path d="M801.2,302 L801.2,327" stroke="#ffffff" stroke-width="1.8"/>
    <circle cx="801.2" cy="333" r="6.1" fill="#2c2c2e" stroke="#ffffff" stroke-width="1.7"/>
    <circle cx="801.2" cy="333" r="3.1" fill="#ffffff" stroke="none"/>
    <!-- 3/8 thread -->
    <path d="M619.8,316 L619.8,341" stroke="#ffffff" stroke-width="1.8"/>
    <path d="M619.8,341 L619.8,373" stroke="#333333" stroke-width="1.8"/>
    <circle cx="619.8" cy="310" r="6.1" fill="#2c2c2e" stroke="#ffffff" stroke-width="1.7"/>
    <circle cx="619.8" cy="310" r="3.1" fill="#ffffff" stroke="none"/>
    <!-- rubber pad -->
    <path d="M633,547 L633,581" stroke="#333333" stroke-width="1.8"/>
    <path d="M633,581 L633,605" stroke="#ffffff" stroke-width="1.8"/>
    <circle cx="633" cy="610.8" r="6.1" fill="#2c2c2e" stroke="#ffffff" stroke-width="1.7"/>
    <circle cx="633" cy="610.8" r="3.1" fill="#ffffff" stroke="none"/>
    <!-- built-in plate -->
    <path d="M692.2,719 L692.2,743" stroke="#ffffff" stroke-width="1.8"/>
    <path d="M692.2,743 L692.2,776" stroke="#333333" stroke-width="1.8"/>
    <circle cx="692.2" cy="713.2" r="6.1" fill="#2c2c2e" stroke="#ffffff" stroke-width="1.7"/>
    <circle cx="692.2" cy="713.2" r="3.1" fill="#ffffff" stroke="none"/>
    <!-- fixing screw -->
    <path d="M364,720.5 L390,720.5" stroke="#ffffff" stroke-width="1.8"/>
    <path d="M390,720.5 L422,720.5" stroke="#333333" stroke-width="1.8"/>
    <circle cx="358.5" cy="720.5" r="6.1" fill="#2c2c2e" stroke="#ffffff" stroke-width="1.7"/>
    <circle cx="358.5" cy="720.5" r="3.1" fill="#ffffff" stroke="none"/>
    <!-- locating point -->
    <path d="M349,777 L349,818" stroke="#ffffff" stroke-width="1.8"/>
    <path d="M349,818 L349,872.3 L377.5,872.3" stroke="#333333" stroke-width="1.8"/>
    <circle cx="349" cy="771.4" r="6.1" fill="#2c2c2e" stroke="#ffffff" stroke-width="1.7"/>
    <circle cx="349" cy="771.4" r="3.1" fill="#ffffff" stroke="none"/>
    <!-- screw driver -->
    <path d="M195.5,842 L195.5,866" stroke="#ffffff" stroke-width="1.8"/>
    <path d="M195.5,866 L195.5,900" stroke="#333333" stroke-width="1.8"/>
    <circle cx="195.5" cy="836.3" r="6.1" fill="#2c2c2e" stroke="#ffffff" stroke-width="1.7"/>
    <circle cx="195.5" cy="836.3" r="3.1" fill="#ffffff" stroke="none"/>
  </g>

  <!-- ===== TEXT ===== -->
  <g id="labels" opacity="0.995">
    <text class="ttl" x="344" y="108.8" textLength="178" lengthAdjust="spacingAndGlyphs">Product</text>
    <text class="ttl" x="538" y="108.8" textLength="159.5" lengthAdjust="spacingAndGlyphs">Details</text>
    <text class="lbl" x="439.5" y="199" textLength="126" lengthAdjust="spacingAndGlyphs">1/4 thread</text>
    <text class="lbl" x="713" y="261.5" textLength="208.5" lengthAdjust="spacingAndGlyphs">Cold Shoe Mount</text>
    <text class="lbl" x="550" y="401.5" textLength="128" lengthAdjust="spacingAndGlyphs">3/8 thread</text>
    <text class="lbl" x="565" y="539" textLength="143" lengthAdjust="spacingAndGlyphs">Rubber Pad</text>
    <text class="lbl" x="431.2" y="729" textLength="154.5" lengthAdjust="spacingAndGlyphs">Fixing Screw</text>
    <text class="lbl" x="548" y="806" textLength="372.5" lengthAdjust="spacingAndGlyphs">built-in plate for arca standard</text>
    <text class="lbl" x="378.3" y="881" textLength="178" lengthAdjust="spacingAndGlyphs">Locating Point</text>
    <text class="lbl" x="134.2" y="927" textLength="380.5" lengthAdjust="spacingAndGlyphs">Built-in Flat-Head Screw Driver</text>
  </g>
</svg>
</body>
</html>
